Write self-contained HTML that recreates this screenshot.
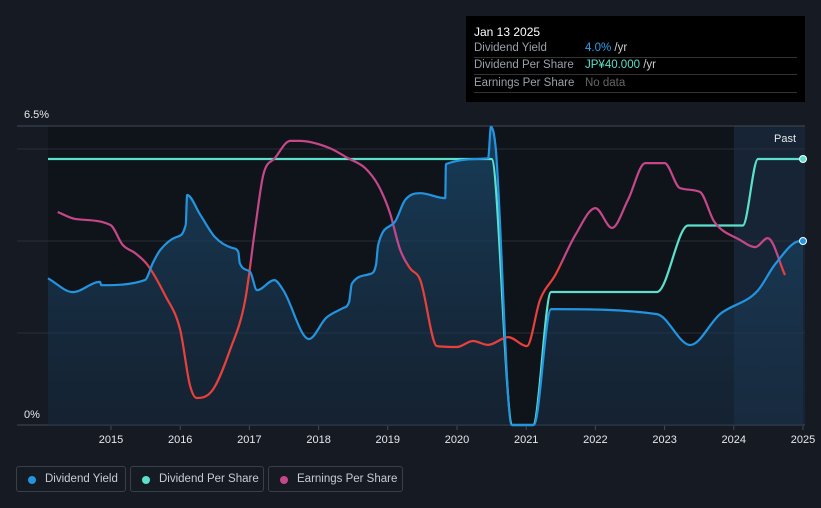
<!DOCTYPE html>
<html><head><meta charset="utf-8">
<style>
body{margin:0;background:#151a23;font-family:"Liberation Sans",sans-serif;}
#wrap{position:relative;width:821px;height:508px;overflow:hidden;background:#151a23;}
#tip{position:absolute;left:466px;top:16px;width:339px;height:86px;background:#000;color:#fff;font-size:11.5px;}
#tip .row{position:absolute;left:8px;right:8px;height:17px;border-bottom:1px solid #333;}
#tip .l{position:absolute;left:0;top:2px;color:#9aa0a8;}
#tip .v{position:absolute;left:111px;top:2px;color:#ccc;}
.leg{position:absolute;top:466px;height:26px;border:1px solid #3a404a;border-radius:3px;color:#c8ccd2;font-size:11.5px;box-sizing:border-box;white-space:nowrap;}
.leg span.d{position:absolute;left:11px;top:9px;width:8px;height:8px;border-radius:50%;}
.leg span.t{position:absolute;left:28px;top:6px;}
</style></head><body>
<div id="wrap">
<svg id="svg" width="821" height="508" style="position:absolute;left:0;top:0">
<defs>
<linearGradient id="fillg" x1="0" y1="0" x2="0" y2="1"><stop offset="0" stop-color="#1a4a6e" stop-opacity="0.75"/><stop offset="1" stop-color="#1a3047" stop-opacity="0.5"/></linearGradient>
<linearGradient id="epsg" gradientUnits="userSpaceOnUse" x1="0" y1="126" x2="0" y2="425"><stop offset="0.45" stop-color="#c5478a"/><stop offset="0.47" stop-color="#e8403c"/><stop offset="1" stop-color="#e8403c"/></linearGradient>
</defs>
<rect x="48" y="126" width="686" height="299" fill="#0f131a"/>
<rect x="734" y="126" width="71" height="299" fill="#162435"/>
<g id="grid"></g>
<path id="fill" fill="url(#fillg)"/>
<path id="dps" fill="none" stroke="#5ce0cc" stroke-width="2.2"/>
<path id="eps" fill="none" stroke="url(#epsg)" stroke-width="2.2"/>
<path id="dy" fill="none" stroke="#2394e0" stroke-width="2.2"/>
<text x="774" y="142" fill="#e6e8ea" font-size="11">Past</text>
<text x="24" y="118" fill="#e6e8ea" font-size="11">6.5%</text>
<text x="24" y="418" fill="#e6e8ea" font-size="11">0%</text>
<g id="xt"></g>
</svg>
<div id="tip">
<div style="position:absolute;left:8px;top:9px;color:#fff;font-size:12px">Jan 13 2025</div>
<div class="row" style="top:24px"><span class="l">Dividend Yield</span><span class="v"><span style="color:#2aa0f0">4.0%</span> /yr</span></div>
<div class="row" style="top:41px"><span class="l">Dividend Per Share</span><span class="v"><span style="color:#5ce0cc">JP¥40.000</span> /yr</span></div>
<div class="row" style="top:59px"><span class="l">Earnings Per Share</span><span class="v" style="color:#666">No data</span></div>
</div>
<div class="leg" style="left:16px;width:110px"><span class="d" style="background:#2394e0"></span><span class="t">Dividend Yield</span></div>
<div class="leg" style="left:130px;width:134px"><span class="d" style="background:#5ce0cc"></span><span class="t">Dividend Per Share</span></div>
<div class="leg" style="left:268px;width:135px"><span class="d" style="background:#c5478a"></span><span class="t">Earnings Per Share</span></div>
</div>
<script>
const yieldYears=[2014.09,2014.45,2014.84,2014.86,2015.49,2015.61,2015.71,2015.95,2016.08,2016.10,2016.29,2016.50,2016.75,2016.84,2016.86,2017.01,2017.11,2017.36,2017.49,2017.86,2018.11,2018.35,2018.44,2018.48,2018.74,2018.83,2018.86,2019.10,2019.25,2019.47,2019.83,2019.84,2020.45,2020.49,2020.56,2020.79,2021.11,2021.36,2022.89,2023.37,2023.80,2024.34,2024.60,2024.96,2025.0];
const yieldVals=[3.19,2.89,3.11,3.04,3.15,3.54,3.80,4.09,4.35,5.0,4.57,4.09,3.85,3.76,3.52,3.33,2.93,3.15,2.93,1.87,2.33,2.54,2.67,3.07,3.28,3.48,3.91,4.41,4.89,5.04,4.93,5.67,5.80,6.48,6.0,0,0,2.52,2.41,1.74,2.41,2.91,3.5,4.0,4.0];
const dpsYears=[2014.09,2020.5,2020.8,2021.1,2021.36,2022.89,2023.34,2024.13,2024.35,2025.0];
const dpsVals=[40,40,0,0,20,20,30,30,40,40];
const epsYears=[2014.23,2014.48,2014.99,2015.17,2015.35,2015.53,2015.78,2016.0,2016.14,2016.24,2016.47,2016.72,2016.94,2017.08,2017.2,2017.37,2017.59,2017.73,2018.16,2018.42,2018.67,2018.86,2019.03,2019.18,2019.32,2019.47,2019.71,2020.0,2020.23,2020.45,2020.74,2021.01,2021.2,2021.42,2021.71,2022.0,2022.24,2022.47,2022.72,2023.0,2023.22,2023.51,2023.72,2024.09,2024.31,2024.49,2024.74];
const epsVals=[71,68.7,66.7,60,57.3,53.3,43.3,31.7,13.3,9,11.7,25,41.7,65,83.3,89,94.7,94.7,92.3,89,85.7,80,70.7,58.3,52.3,48.3,26.3,26,28,26.7,29.3,26.3,41.7,50,63.3,72.3,65.7,75,87.3,87.3,79,77.7,67.7,61.7,59.3,62.3,50];
const xTicks=[2015,2016,2017,2018,2019,2020,2021,2022,2023,2024,2025];
const yGrid=[0,2,4,6,6.5];
const X=y=>111+(y-2015)*69.2;
const Y=v=>425-v*46;
const YD=v=>425-v*6.65;
const YE=v=>425-v*3;
function mono(xs,ys){const n=xs.length;const d=[],m=[];for(let i=0;i<n-1;i++)d.push((ys[i+1]-ys[i])/(xs[i+1]-xs[i]));m[0]=d[0];m[n-1]=d[n-2];for(let i=1;i<n-1;i++)m[i]=(d[i-1]*d[i]<=0)?0:(d[i-1]+d[i])/2;
for(let i=0;i<n-1;i++){if(d[i]==0){m[i]=0;m[i+1]=0;continue;}const a=m[i]/d[i],b=m[i+1]/d[i];const s=a*a+b*b;if(s>9){const t=3/Math.sqrt(s);m[i]=t*a*d[i];m[i+1]=t*b*d[i];}}
let p='M'+xs[0].toFixed(1)+','+ys[0].toFixed(1);for(let i=0;i<n-1;i++){const h=(xs[i+1]-xs[i])/3;p+=' C'+(xs[i]+h).toFixed(1)+','+(ys[i]+m[i]*h).toFixed(1)+' '+(xs[i+1]-h).toFixed(1)+','+(ys[i+1]-m[i+1]*h).toFixed(1)+' '+xs[i+1].toFixed(1)+','+ys[i+1].toFixed(1);}return p;}
const ns='http://www.w3.org/2000/svg';
const g=document.getElementById('grid');
yGrid.forEach(v=>{const l=document.createElementNS(ns,'line');l.setAttribute('x1',17);l.setAttribute('x2',805);l.setAttribute('y1',Y(v));l.setAttribute('y2',Y(v));l.setAttribute('stroke',v==0||v==6.5?'#444a54':'#2a2f38');


g.appendChild(l);});
const xt=document.getElementById('xt');
xTicks.forEach(t=>{const l=document.createElementNS(ns,'line');l.setAttribute('x1',X(t));l.setAttribute('x2',X(t));l.setAttribute('y1',426);l.setAttribute('y2',430);l.setAttribute('stroke','#444a54');


xt.appendChild(l);const tx=document.createElementNS(ns,'text');tx.setAttribute('x',X(t));tx.setAttribute('y',443);tx.setAttribute('text-anchor','middle');tx.setAttribute('fill','#e6e8ea');tx.setAttribute('font-size','11');tx.textContent=t;


xt.appendChild(tx);});
const dx=yieldYears.map(X),dyy=yieldVals.map(Y);
const dp=mono(dx,dyy);
document.getElementById('dy').setAttribute('d',dp);
document.getElementById('fill').setAttribute('d',dp+' L'+dx[dx.length-1]+',425 L'+dx[0]+',425 Z');
document.getElementById('dps').setAttribute('d',mono(dpsYears.map(X),dpsVals.map(YD)));
document.getElementById('eps').setAttribute('d',mono(epsYears.map(X),epsVals.map(YE)));
const svg=document.getElementById('svg');
[[X(2025),YD(dpsVals[dpsVals.length-1]),'#5ce0cc','dps-end-dot'],[X(2025),Y(yieldVals[yieldVals.length-1]),'#2394e0','yield-end-dot']].forEach(a=>{const c=document.createElementNS(ns,'circle');c.setAttribute('cx',a[0]);c.setAttribute('cy',a[1]);c.setAttribute('r',3.5);c.setAttribute('fill',a[2]);c.setAttribute('stroke','#fff');c.setAttribute('stroke-width','1');


svg.appendChild(c);});
</script>
</body></html>
